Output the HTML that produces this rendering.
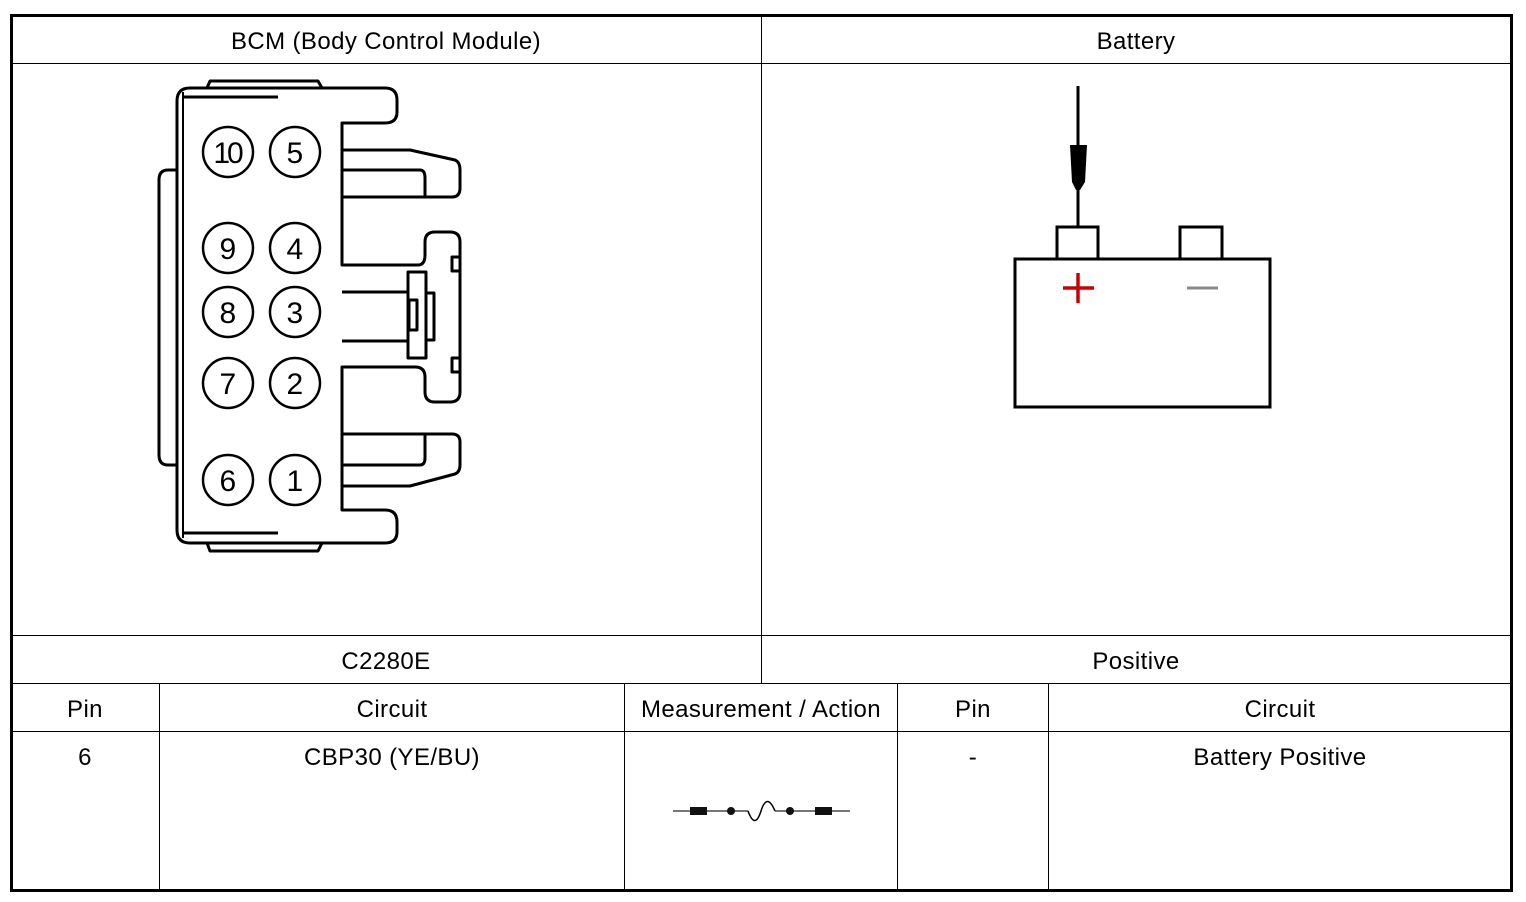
<!DOCTYPE html>
<html><head><style>
body{margin:0;background:#fff;width:1526px;height:902px;overflow:hidden;font-family:"Liberation Sans",Arial,sans-serif;}
svg{position:absolute;left:0;top:0}
text{font-family:"Liberation Sans",Arial,sans-serif;font-size:24px;letter-spacing:0.4px;fill:#000}
</style></head><body>
<svg width="1526" height="902" viewBox="0 0 1526 902">
<g stroke="#000" fill="none">
<rect x="11.5" y="15.5" width="1500" height="875" stroke-width="3"/>
<g stroke-width="1">
<line x1="11" y1="63.5" x2="1511" y2="63.5"/>
<line x1="11" y1="635.5" x2="1511" y2="635.5"/>
<line x1="11" y1="683.5" x2="1511" y2="683.5"/>
<line x1="11" y1="731.5" x2="1511" y2="731.5"/>
<line x1="761.5" y1="15" x2="761.5" y2="683"/>
<line x1="159.5" y1="683" x2="159.5" y2="890"/>
<line x1="624.5" y1="683" x2="624.5" y2="890"/>
<line x1="897.5" y1="683" x2="897.5" y2="890"/>
<line x1="1048.5" y1="683" x2="1048.5" y2="890"/>
</g>
</g>
<g text-anchor="middle">
<text x="386" y="49">BCM (Body Control Module)</text>
<text x="1136" y="49">Battery</text>
<text x="386" y="669">C2280E</text>
<text x="1136" y="669">Positive</text>
<text x="85" y="717">Pin</text>
<text x="392" y="717">Circuit</text>
<text x="761" y="717">Measurement / Action</text>
<text x="973" y="717">Pin</text>
<text x="1280" y="717">Circuit</text>
<text x="85" y="765">6</text>
<text x="392" y="765">CBP30 (YE/BU)</text>
<text x="973" y="765">-</text>
<text x="1280" y="765">Battery Positive</text>
</g>
<!-- connector -->
<g stroke="#000" stroke-width="3" fill="none" stroke-linejoin="round">
<path d="M190,88 L385,88 Q397,88 397,100 L397,112 Q397,123 385,123 L342,123 L342,265 L418,265 Q425,265 425,255 L425,242 Q425,232 435,232 L450,232 Q460,232 460,242 L460,392 Q460,402 450,402 L435,402 Q425,402 425,392 L425,377 Q425,367 415,367 L342,367 L342,510 L385,510 Q397,510 397,522 L397,532 Q397,543 385,543 L190,543 Q177,543 177,530 L177,101 Q177,88 190,88 Z"/>
<line x1="183" y1="92" x2="183" y2="538" stroke-width="2"/>
<line x1="183" y1="97" x2="278" y2="97"/>
<line x1="183" y1="533" x2="278" y2="533"/>
<path d="M207,88 L210,81 L318,81 L322,88"/>
<path d="M207,543 L210,551 L318,551 L322,543"/>
<path d="M177,170 L168,170 Q159,170 159,180 L159,455 Q159,465 168,465 L177,465"/>
<path d="M342,150 L410,150 L455,160 Q460,162 460,170 L460,188 Q460,197 452,197 L342,197"/>
<path d="M342,170 L420,170 Q425,170 425,178 L425,197"/>
<path d="M342,434 L452,434 Q460,434 460,442 L460,465 Q460,472 455,474 L410,486 L342,486"/>
<path d="M342,465 L420,465 Q425,465 425,458 L425,434"/>
<path d="M342,292 L408,292 L408,341 L342,341"/>
<rect x="408" y="272" width="18" height="86"/>
<rect x="426" y="293" width="8" height="47"/>
<rect x="409" y="300" width="8" height="30"/>
<rect x="452" y="257" width="8" height="14"/>
<rect x="452" y="358" width="8" height="14"/>
<g stroke-width="2.5">
<circle cx="228" cy="152" r="25"/><circle cx="295" cy="152" r="25"/>
<circle cx="228" cy="248" r="25"/><circle cx="295" cy="248" r="25"/>
<circle cx="228" cy="312" r="25"/><circle cx="295" cy="312" r="25"/>
<circle cx="228" cy="383" r="25"/><circle cx="295" cy="383" r="25"/>
<circle cx="228" cy="480" r="25"/><circle cx="295" cy="480" r="25"/>
</g>
</g>
<g text-anchor="middle">
<text x="227" y="163" style="font-size:30px;letter-spacing:-3px">10</text><text x="295" y="163" style="font-size:30px">5</text>
<text x="228" y="259" style="font-size:30px">9</text><text x="295" y="259" style="font-size:30px">4</text>
<text x="228" y="323" style="font-size:30px">8</text><text x="295" y="323" style="font-size:30px">3</text>
<text x="228" y="394" style="font-size:30px">7</text><text x="295" y="394" style="font-size:30px">2</text>
<text x="228" y="491" style="font-size:30px">6</text><text x="295" y="491" style="font-size:30px">1</text>
</g>
<!-- battery -->
<g stroke="#000" stroke-width="3" fill="none">
<rect x="1015" y="259" width="255" height="148"/>
<rect x="1057" y="227" width="41" height="32"/>
<rect x="1180" y="227" width="42" height="32"/>
<line x1="1078" y1="86" x2="1078" y2="145"/>
<line x1="1078" y1="188" x2="1078" y2="227"/>
</g>
<path d="M1070,145 L1087,145 L1085,182 L1080,190 L1076,190 L1072,182 Z" fill="#000"/>
<g stroke="#cc0000" stroke-width="3.5"><line x1="1063" y1="288" x2="1094" y2="288"/><line x1="1078" y1="273" x2="1078" y2="303"/></g>
<line x1="1187" y1="288" x2="1218" y2="288" stroke="#888" stroke-width="3"/>
<!-- fuse -->
<g stroke="#000">
<line x1="673" y1="811" x2="748" y2="811" stroke="#777" stroke-width="2"/>
<line x1="775" y1="811" x2="850" y2="811" stroke="#777" stroke-width="2"/>
<rect x="690" y="807" width="17" height="8" fill="#111" stroke="none"/>
<rect x="815" y="807" width="17" height="8" fill="#111" stroke="none"/>
<circle cx="731" cy="811" r="4" fill="#111" stroke="none"/>
<circle cx="790" cy="811" r="4" fill="#111" stroke="none"/>
<path d="M748,811 Q755,830 761,811 Q767,792 775,811" fill="none" stroke-width="1.5"/>
</g>
</svg>
</body></html>
